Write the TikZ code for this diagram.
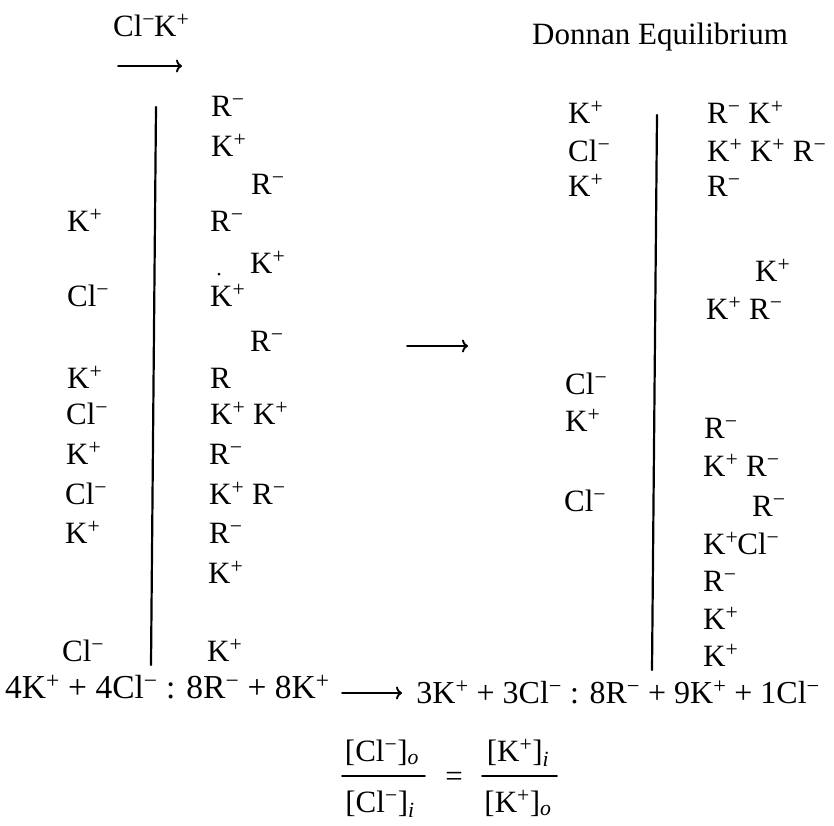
\documentclass[tikz,border=0pt]{standalone}
\usepackage{fontspec}
\setmainfont{Liberation Serif}
\usetikzlibrary{arrows.meta}
\newcommand{\Kion}{K\textsuperscript{+}}
\newcommand{\Clion}{Cl\textsuperscript{−}}
\newcommand{\Rion}{R\textsuperscript{−}}
\begin{document}
\begin{tikzpicture}[x=1pt,y=-1pt,line cap=round,line join=round,
  ion/.style={anchor=base west,inner sep=0pt},
  part/.style={anchor=base,inner sep=0pt},
  membrane/.style={line width=2.2pt},
  flow/.style={-{To[length=6pt,width=13pt]},line width=1.9pt}]
\fontsize{31}{37}\selectfont
\useasboundingbox (0,0) rectangle (834,825);

% ---- left picture: before equilibrium ----
\node[ion] (top) at (113,36) {Cl\textsuperscript{−}\kern-1pt\Kion};
\coordinate (t1) at (118,66);
\coordinate (t2) at (182,66);
\draw[flow] (t1) -- (t2);

\coordinate (m1) at (156,107);
\coordinate (m2) at (151,665);
\draw[membrane] (m1) -- (m2);

% outer side
\node[ion] (L1) at (67,231) {\Kion};
\node[ion] (L2) at (67,306) {\Clion};
\node[ion] (L3) at (67,388) {\Kion};
\node[ion] (L4) at (66,424) {\Clion};
\node[ion] (L5) at (66,464) {\Kion};
\node[ion] (L6) at (65,504) {\Clion};
\node[ion] (L7) at (65,543) {\Kion};
\node[ion] (L8) at (62,661) {\Clion};

% inner side
\node[ion] (M1) at (211,116) {\Rion};
\node[ion] (M2) at (211,156) {\Kion};
\node[ion] (M3) at (251,194) {\Rion};
\node[ion] (M4) at (210,231) {\Rion};
\node[ion] (M5) at (250,273) {\Kion};
\fill (219,274) circle (1.5pt);
\node[ion] (M6) at (210,306) {\Kion};
\node[ion] (M7) at (250,351) {\Rion};
\node[ion] (M8) at (210,388) {R};
\node[ion] (M9) at (210,424) {\Kion\ \Kion};
\node[ion] (M10) at (209,464) {\Rion};
\node[ion] (M11) at (209,504) {\Kion\ \Rion};
\node[ion] (M12) at (209,543) {\Rion};
\node[ion] (M13) at (208,583) {\Kion};
\node[ion] (M14) at (207,661) {\Kion};

% ---- middle arrow ----
\coordinate (a1) at (407,346);
\coordinate (a2) at (468,346);
\draw[flow] (a1) -- (a2);

% ---- right picture: Donnan equilibrium ----
\node[ion] (title) at (532,44) {Donnan Equilibrium};

\coordinate (n1) at (657,115);
\coordinate (n2) at (652,670);
\draw[membrane] (n1) -- (n2);

% outer side
\node[ion] (P1) at (568,123) {\Kion};
\node[ion] (P2) at (568,161) {\Clion};
\node[ion] (P3) at (568,196) {\Kion};
\node[ion] (P4) at (565,394) {\Clion};
\node[ion] (P5) at (565,431) {\Kion};
\node[ion] (P6) at (564,511) {\Clion};

% inner side
\node[ion] (Q1) at (707,123) {\Rion\ \Kion};
\node[ion] (Q2) at (707,161) {\Kion\ \Kion\ \Rion};
\node[ion] (Q3) at (707,196) {\Rion};
\node[ion] (Q4) at (755,281) {\Kion};
\node[ion] (Q5) at (706,319) {\Kion\ \Rion};
\node[ion] (Q6) at (704,438) {\Rion};
\node[ion] (Q7) at (703,476) {\Kion\ \Rion};
\node[ion] (Q8) at (752,516) {\Rion};
\node[ion] (Q9) at (703,554) {\Kion\kern-1pt\Clion};
\node[ion] (Q10) at (703,591) {\Rion};
\node[ion] (Q11) at (703,629) {\Kion};
\node[ion] (Q12) at (703,666) {\Kion};

% ---- balance ----
\node[ion,font=\fontsize{33.5}{37}\selectfont] (balL) at (5,698)
  {4\Kion{} + 4\Clion{} : 8\Rion{} + 8\Kion};
\node[ion,anchor=base east,font=\fontsize{32}{37}\selectfont] (balR) at (820,703)
  {3\Kion{} + 3\Clion{} : 8\Rion{} + 9\Kion{} + 1\Clion};
\coordinate (b1) at (342,693);
\coordinate (b2) at (402,693);
\draw[flow] (b1) -- (b2);

% ---- ratio ----
\node[part] (num1) at (382,761) {[\Clion]\textsubscript{\itshape o}};
\node[part] (den1) at (380,812) {[\Clion]\textsubscript{\itshape i}};
\node[part] (eq) at (454,786) {=};
\node[part] (num2) at (518,761) {[\Kion]\textsubscript{\itshape i}};
\node[part] (den2) at (518,812) {[\Kion]\textsubscript{\itshape o}};
\coordinate (f1) at (342,776);
\coordinate (f2) at (425,776);
\coordinate (f3) at (482,776);
\coordinate (f4) at (557,776);
\draw[line width=1.8pt] (f1) -- (f2);
\draw[line width=1.8pt] (f3) -- (f4);

\end{tikzpicture}
\end{document}
